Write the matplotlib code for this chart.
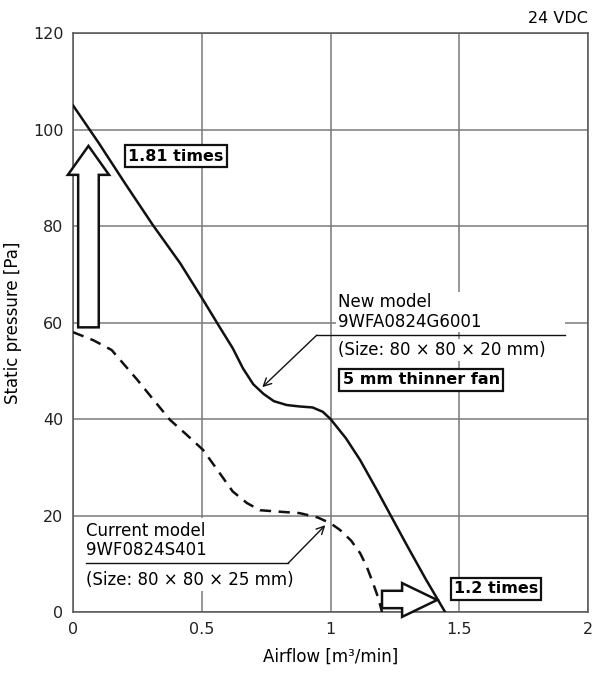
import matplotlib.pyplot as plt
from matplotlib.patches import Polygon, Rectangle

plt.rcParams['font.family'] = ['DejaVu Sans']

# new model 9WFA0824G6001 (solid)
new_x = [0, 0.1, 0.2, 0.31, 0.416, 0.505, 0.57, 0.62, 0.66, 0.7, 0.74, 0.78,
         0.83, 0.88, 0.93, 0.97, 1.0, 1.06, 1.115, 1.18, 1.243, 1.3, 1.37, 1.445]
new_y = [105, 97.2, 89, 80.2, 72.3, 64.7, 59, 54.7, 50.5, 47.2, 45.2, 43.7,
         42.9, 42.6, 42.4, 41.5, 40, 36, 31.5, 25.3, 19.1, 13.5, 6.8, 0]

# current model 9WF0824S401 (dashed)
cur_x = [0, 0.08, 0.15, 0.25, 0.32, 0.377, 0.44, 0.505, 0.56, 0.62, 0.675, 0.726,
         0.8, 0.88, 0.95, 1.0, 1.037, 1.08, 1.115, 1.14, 1.165, 1.185, 1.2]
cur_y = [58, 56.3, 54.3, 48.1, 43.5, 39.8, 36.8, 33.6, 29.5, 25, 22.6, 21.1,
         20.8, 20.5, 19.6, 18.4, 17, 14.8, 12.2, 9.5, 6, 3, 0]

x_ticks = [0, 0.5, 1, 1.5, 2]
x_labels = ["0", "0.5", "1", "1.5", "2"]
y_ticks = [0, 20, 40, 60, 80, 100, 120]

fig = plt.figure(figsize=(5.98, 6.75), dpi=100)
ax = fig.add_axes([0.1221, 0.0933, 0.8612, 0.8578])
ax.set_xlim(0, 2)
ax.set_ylim(0, 120)
ax.set_xticks(x_ticks)
ax.set_xticklabels(x_labels)
ax.set_yticks(y_ticks)
ax.tick_params(length=0, labelsize=11.5, pad=7, colors="#222222")
ax.grid(True, color="#7a7a7a", linewidth=1.1)
ax.set_axisbelow(True)
for s in ax.spines.values():
    s.set_color("#555555")
    s.set_linewidth(1.1)

ax.plot(new_x, new_y, color="#111111", linewidth=1.8, zorder=3)
ax.plot(cur_x, cur_y, color="#111111", linewidth=1.8, dashes=(4.5, 3), zorder=3)

ax.set_xlabel("Airflow [m³/min]", fontsize=12, labelpad=8)
ax.set_ylabel("Static pressure [Pa]", fontsize=12, labelpad=8)
fig.text(0.983, 0.972, "24 VDC", ha="right", va="center", fontsize=11.5)

# hollow up arrow (pressure ratio)
up = [(0.02, cur_y[0] + 1), (0.1, cur_y[0] + 1), (0.1, 90.6), (0.14, 90.6),
      (0.06, 96.6), (-0.02, 90.6), (0.02, 90.6)]
ax.add_patch(Polygon(up, closed=True, facecolor="white", edgecolor="#111111",
                     linewidth=1.8, zorder=4, clip_on=False))

# hollow right arrow (airflow ratio)
right = [(1.2, 0.8), (1.278, 0.8), (1.278, -1.0), (1.414, 2.5), (1.278, 6.0),
         (1.278, 4.4), (1.2, 4.4)]
ax.add_patch(Polygon(right, closed=True, facecolor="white", edgecolor="#111111",
                     linewidth=1.8, zorder=4, clip_on=False))

box = dict(boxstyle="square,pad=0.2", facecolor="white", edgecolor="#111111", linewidth=1.6)
ax.text(0.4, 94.5, "1.81 times", ha="center", va="center", fontsize=11.5,
        fontweight="bold", bbox=box, zorder=5)
ax.text(1.352, 48.1, "5 mm thinner fan", ha="center", va="center", fontsize=11.5,
        fontweight="bold", bbox=box, zorder=5)
ax.text(1.643, 4.8, "1.2 times", ha="center", va="center", fontsize=11.5,
        fontweight="bold", bbox=box, zorder=5)

wbg = dict(boxstyle="square,pad=0.1", facecolor="white", edgecolor="none")

# new model label
ax.add_patch(Rectangle((1.02, 58.0), 0.89, 8.0, facecolor="white", edgecolor="none", zorder=2))
ax.text(1.029, 62.2, "New model\n9WFA0824G6001", ha="left", va="center", fontsize=12,
        linespacing=1.1, bbox=wbg, zorder=4)
ax.text(1.029, 54.3, "(Size: 80 × 80 × 20 mm)", ha="left", va="center", fontsize=12,
        bbox=wbg, zorder=4)
ax.plot([1.91, 0.947], [57.4, 57.4], color="#111111", linewidth=1.0, zorder=4)
ax.annotate("", xy=(0.735, 46.6), xytext=(0.947, 57.4),
            arrowprops=dict(arrowstyle="->", color="#111111", linewidth=1.0,
                            mutation_scale=14, shrinkA=0, shrinkB=0), zorder=4)

# current model label
ax.add_patch(Rectangle((0.04, 5.0), 0.8, 14.5, facecolor="white", edgecolor="none", zorder=2))
ax.text(0.05, 14.8, "Current model\n9WF0824S401", ha="left", va="center", fontsize=12,
        linespacing=1.1, bbox=wbg, zorder=4)
ax.text(0.05, 6.6, "(Size: 80 × 80 × 25 mm)", ha="left", va="center", fontsize=12,
        bbox=wbg, zorder=4)
ax.plot([0.05, 0.835], [10.1, 10.1], color="#111111", linewidth=1.0, zorder=4)
ax.annotate("", xy=(0.98, 18.0), xytext=(0.835, 10.1),
            arrowprops=dict(arrowstyle="->", color="#111111", linewidth=1.0,
                            mutation_scale=14, shrinkA=0, shrinkB=0), zorder=4)

plt.savefig("out.png", dpi=100)
